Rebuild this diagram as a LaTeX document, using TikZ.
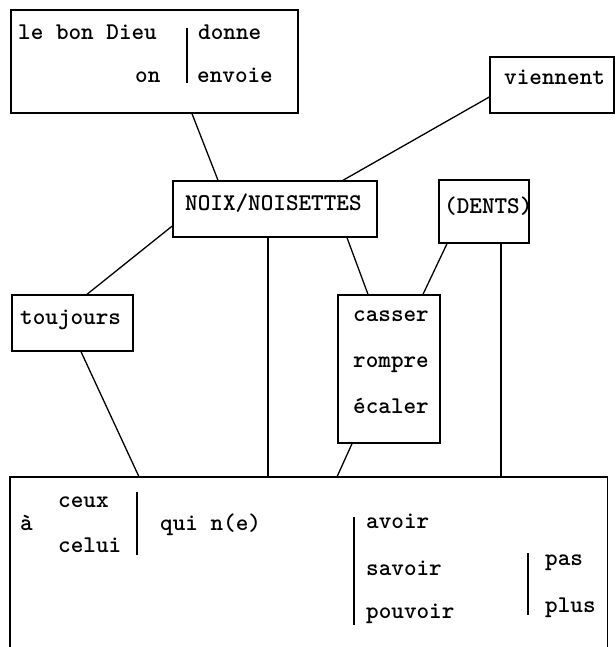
\documentclass[tikz,border=0pt]{standalone}
\usetikzlibrary{calc}
\begin{document}
\begin{tikzpicture}[x=1pt,y=-1pt,
  box/.style={draw,line width=1.4pt,rectangle,inner sep=0pt},
  txt/.style={anchor=base west,inner sep=0pt,font=\fontsize{24}{28}\selectfont\ttfamily\bfseries},
  conn/.style={line width=1.3pt},
  bar/.style={line width=1.5pt}]
\useasboundingbox (0,0) rectangle (615,647);
% boxes
\node[box,minimum width=287pt,minimum height=103pt] (top) at (154.5,61.5) {};
\node[box,minimum width=124pt,minimum height=56pt] (vien) at (552,85) {};
\node[box,minimum width=204pt,minimum height=56pt] (noix) at (275,209) {};
\node[box,minimum width=90pt,minimum height=63pt] (dents) at (484,211.5) {};
\node[box,minimum width=121pt,minimum height=56pt] (touj) at (72.5,323) {};
\node[box,minimum width=102pt,minimum height=148pt] (cass) at (389,369) {};
\node[inner sep=0pt,minimum width=597pt,minimum height=183pt] (bot) at (308.5,568.5) {};
\draw[line width=1.4pt] (bot.south west) |- (bot.north east) -- (bot.south east);
% texts
\node[txt] (t1) at (18,40) {le bon Dieu};
\node[txt] (t2) at (198,40) {donne};
\node[txt] (t3) at (135,83) {on};
\node[txt] (t4) at (197,83) {envoie};
\draw[bar] (187,28) -- (187,83);
\node[txt] (t5) at (504,85) {viennent};
\node[txt] (t6) at (185,210) {NOIX/NOISETTES};
\node[txt] (t7) at (444,213) {(DENTS)};
\node[txt] (t8) at (20,324) {toujours};
\node[txt] (t9) at (353,321) {casser};
\node[txt] (t10) at (353,367) {rompre};
\node[txt] (t11) at (353,413) {écaler};
\node[txt] (b1) at (20,530) {à};
\node[txt] (b2) at (58,507) {ceux};
\node[txt] (b3) at (58,552) {celui};
\draw[bar] (137,492) -- (137,555);
\node[txt] (b4) at (160,530) {qui n(e)};
\draw[bar] (354,517) -- (354,625);
\node[txt] (b5) at (366,528) {avoir};
\node[txt] (b6) at (366,575) {savoir};
\node[txt] (b7) at (366,618) {pouvoir};
\draw[bar] (528,553) -- (528,615);
\node[txt] (b8) at (545,565) {pas};
\node[txt] (b9) at (545,612) {plus};
% connectors
\draw[conn] ([xshift=37.5pt]top.south) -- ([xshift=-57pt]noix.north);
\draw[conn] ([yshift=-12pt]vien.west) -- ([xshift=68pt]noix.north);
\draw[conn] ([yshift=-17pt]noix.west) -- ([xshift=14.5pt]touj.north);
\draw[conn] ([xshift=8.5pt]touj.south) -- ([xshift=-169.5pt]bot.north);
\draw[conn] ([xshift=-7pt]noix.south) -- ([xshift=-7pt]noix.south |- bot.north);
\draw[conn] ([xshift=72pt]noix.south) -- ([xshift=-21pt]cass.north);
\draw[conn] ([xshift=-37pt]dents.south) -- ([xshift=34pt]cass.north);
\draw[conn] ([xshift=-37pt]cass.south) -- ([xshift=28.5pt]bot.north);
\draw[conn] ([xshift=17pt]dents.south) -- ([xshift=17pt]dents.south |- bot.north);
\end{tikzpicture}
\end{document}
